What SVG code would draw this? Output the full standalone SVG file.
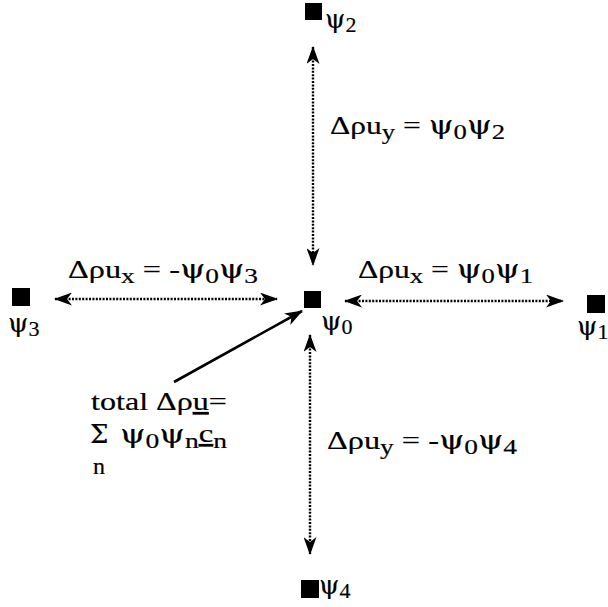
<svg xmlns="http://www.w3.org/2000/svg" width="608" height="607" viewBox="0 0 608 607">
<style>
  text { font-family: "Liberation Serif", "Times New Roman", serif; font-size: 26px; fill: #000; stroke: #000; stroke-width: 0.2; }
  .sub { font-size: 22px; }
  .lbl { font-size: 26px; }
  .g { font-family: "DejaVu Serif", "Liberation Serif", serif; }
  .dot { stroke: #000; stroke-width: 2.4; stroke-dasharray: 2 1.4; fill: none; }
  .sq { fill: #000; }
</style>
<defs>
  <marker id="ah" markerUnits="userSpaceOnUse" markerWidth="18" markerHeight="13" refX="17" refY="6.5" orient="auto-start-reverse" viewBox="0 0 18 13">
    <path d="M0,0 L18,6.5 L0,13 L5,6.5 z" fill="#000"/>
  </marker>
</defs>
<rect width="608" height="607" fill="#fff"/>

<g id="connectors">
  <line class="dot" x1="313" y1="47" x2="313" y2="265" marker-start="url(#ah)" marker-end="url(#ah)"/>
  <line class="dot" x1="310" y1="335" x2="310" y2="554" marker-start="url(#ah)" marker-end="url(#ah)"/>
  <line class="dot" x1="55" y1="299" x2="277" y2="299" marker-start="url(#ah)" marker-end="url(#ah)"/>
  <line class="dot" x1="345" y1="301" x2="563" y2="301" marker-start="url(#ah)" marker-end="url(#ah)"/>
  <line x1="174" y1="382" x2="302" y2="311" stroke="#000" stroke-width="2.6" marker-end="url(#ah)"/>
</g>

<g id="psi0">
  <rect class="sq" x="304" y="291" width="17" height="17"/>
  <text class="lbl" x="321" y="330"><tspan class="g">ψ</tspan><tspan class="sub" dy="4">0</tspan></text>
</g>
<g id="psi1">
  <rect class="sq" x="587" y="295" width="18" height="18"/>
  <text class="lbl" x="577" y="335"><tspan class="g">ψ</tspan><tspan class="sub" dy="4">1</tspan></text>
</g>
<g id="psi2">
  <rect class="sq" x="305" y="3" width="17" height="17"/>
  <text class="lbl" x="325" y="28"><tspan class="g">ψ</tspan><tspan class="sub" dy="4">2</tspan></text>
</g>
<g id="psi3">
  <rect class="sq" x="12" y="288" width="18" height="18"/>
  <text class="lbl" x="8" y="332"><tspan class="g">ψ</tspan><tspan class="sub" dy="4">3</tspan></text>
</g>
<g id="psi4">
  <rect class="sq" x="301" y="580" width="18" height="18"/>
  <text class="lbl" x="319" y="594"><tspan class="g">ψ</tspan><tspan class="sub" dy="4">4</tspan></text>
</g>

<g id="labels">
  <text x="330" y="134" textLength="175" lengthAdjust="spacingAndGlyphs">Δρu<tspan class="sub" dy="5">y</tspan><tspan dy="-5"> = </tspan><tspan class="g">ψ</tspan><tspan class="sub" dy="5">0</tspan><tspan class="g" dy="-5">ψ</tspan><tspan class="sub" dy="5">2</tspan></text>
  <text x="68" y="278" textLength="190" lengthAdjust="spacingAndGlyphs">Δρu<tspan class="sub" dy="5">x</tspan><tspan dy="-5"> = -</tspan><tspan class="g">ψ</tspan><tspan class="sub" dy="5">0</tspan><tspan class="g" dy="-5">ψ</tspan><tspan class="sub" dy="5">3</tspan></text>
  <text x="358" y="278" textLength="175" lengthAdjust="spacingAndGlyphs">Δρu<tspan class="sub" dy="5">x</tspan><tspan dy="-5"> = </tspan><tspan class="g">ψ</tspan><tspan class="sub" dy="5">0</tspan><tspan class="g" dy="-5">ψ</tspan><tspan class="sub" dy="5">1</tspan></text>
  <text x="327" y="449" textLength="190" lengthAdjust="spacingAndGlyphs">Δρu<tspan class="sub" dy="5">y</tspan><tspan dy="-5"> = -</tspan><tspan class="g">ψ</tspan><tspan class="sub" dy="5">0</tspan><tspan class="g" dy="-5">ψ</tspan><tspan class="sub" dy="5">4</tspan></text>
  <text x="91" y="410" textLength="136" lengthAdjust="spacingAndGlyphs">total Δρ<tspan text-decoration="underline">u</tspan>=</text>
  <text class="g" x="90" y="443" style="font-size:26px">Σ</text>
  <text x="93" y="474" style="font-size:24px">n</text>
  <text x="120" y="443" textLength="107" lengthAdjust="spacingAndGlyphs"><tspan class="g">ψ</tspan><tspan class="sub" dy="5">0</tspan><tspan class="g" dy="-5">ψ</tspan><tspan class="sub" dy="5">n</tspan><tspan dy="-6" text-decoration="underline">c</tspan><tspan class="sub" dy="6">n</tspan></text>
</g>
</svg>
